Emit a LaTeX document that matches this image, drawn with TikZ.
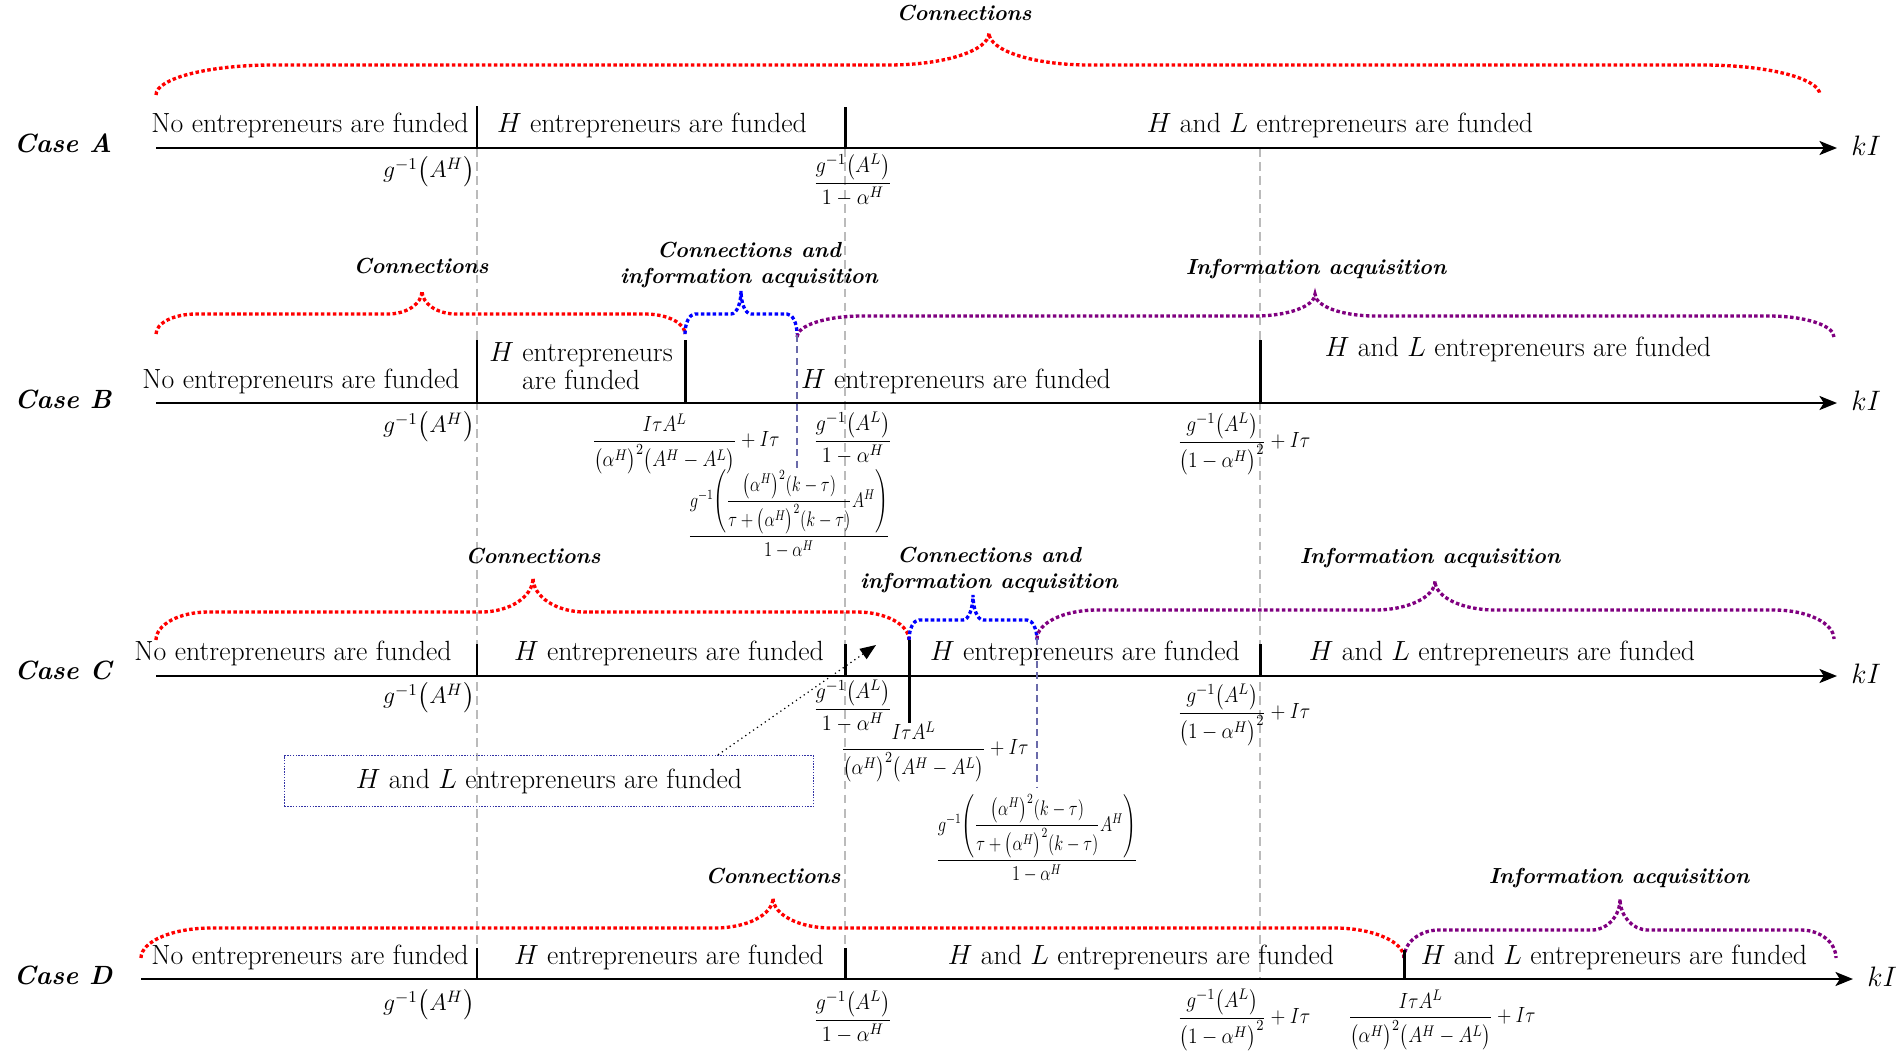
\RequirePackage{fix-cm}
\documentclass[tikz,border=0pt]{standalone}
\usepackage{xcolor}
\usepackage{graphicx}
\usepackage{tikz}
\usetikzlibrary{calc}
\usetikzlibrary{arrows.meta}
\usepackage{amsmath}
\definecolor{BraceRed}{HTML}{FF0000}
\definecolor{BraceBlue}{HTML}{0000FF}
\definecolor{BracePurple}{HTML}{800080}
\definecolor{GuideGray}{HTML}{BBBBBB}
\definecolor{GuideBlue}{HTML}{6A6AAA}
\definecolor{BoxBlue}{HTML}{3333A6}

% #1 colour, #2 #3 left/right x, #4 end y, #5 flat y, #6 #7 tip, #8 end bend, #9 tip bend
\newcommand{\dotbrace}[9]{%
  \draw[brace line, draw=#1] (#2,#4)
    .. controls (#2,{#4-0.552*(#4-#5)}) and ({#2+0.448*#8},#5) .. ({#2+#8},#5)
    -- ({#6-#9},#5)
    .. controls ({#6-0.448*#9},#5) and (#6,{#7+0.552*(#5-#7)}) .. (#6,#7)
    .. controls (#6,{#7+0.552*(#5-#7)}) and ({#6+0.448*#9},#5) .. ({#6+#9},#5)
    -- ({#3-#8},#5)
    .. controls ({#3-0.448*#8},#5) and (#3,{#4-0.552*(#4-#5)}) .. (#3,#4);}

\newcommand{\gAH}{$g^{-1}\bigl(A^{H}\bigr)$}
\newcommand{\fracGL}{\scalebox{0.93}[1]{$\dfrac{g^{-1}\bigl(A^{L}\bigr)}{1-\alpha^{H}}$}}
\newcommand{\fracGLsq}{\scalebox{0.89}[1]{$\dfrac{g^{-1}\bigl(A^{L}\bigr)}{\bigl(1-\alpha^{H}\bigr)^{2}}+I\tau$}}
\newcommand{\fracItau}{\scalebox{0.86}[1]{$\dfrac{I\tau A^{L}}{\bigl(\alpha^{H}\bigr)^{2}\bigl(A^{H}-A^{L}\bigr)}+I\tau$}}
\newcommand{\fracBig}{\fontsize{12}{14}\selectfont\scalebox{0.78}[1]{$\dfrac{g^{-1}\!\left(\dfrac{\bigl(\alpha^{H}\bigr)^{2}(k-\tau)}{\tau+\bigl(\alpha^{H}\bigr)^{2}(k-\tau)}A^{H}\right)}{1-\alpha^{H}}$}}

\begin{document}
\begin{tikzpicture}[x=0.2mm, y=-0.2mm,
  brace line/.style={line width=1.9pt, dash pattern=on 2pt off 1.4pt},
  axis/.style={line width=1.2pt, -{Stealth[length=10pt, width=8pt, inset=2.5pt]}},
  tick/.style={line width=1.7pt},
  guide/.style={draw=GuideGray, line width=.6pt, dash pattern=on 5pt off 3pt},
  guideblue/.style={draw=GuideBlue, line width=.6pt, dash pattern=on 4pt off 2.5pt},
  lbl/.style={font=\fontsize{15.8}{18}\selectfont, inner sep=0pt, anchor=base},
  mth/.style={font=\fontsize{12.5}{15}\selectfont, inner sep=0pt},
  gh/.style={font=\fontsize{13.5}{16}\selectfont, inner sep=0pt, anchor=east},
  kilbl/.style={font=\fontsize{16}{19}\selectfont, inner sep=0pt, anchor=west},
  case/.style={font=\fontsize{15}{18}\selectfont\bfseries\itshape, inner sep=0pt, anchor=base},
  brlbl/.style={font=\fontsize{12.4}{14.8}\selectfont\bfseries\itshape, inner sep=0pt, align=center}]

  \useasboundingbox (0,0) rectangle (1903,1056);

  \draw[guide] (477,148) -- (477,948);
  \draw[guide] (845,148) -- (845,948);
  \draw[guide] (1260,148) -- (1260,979);

  % Case A
  \dotbrace{BraceRed}{156}{1820}{95}{65}{989}{33}{117}{100}
  \node[brlbl, anchor=base] (conA) at (964,20) {Connections};
  \coordinate (A0) at (156,148);
  \coordinate (A1) at (1837,148);
  \draw[axis] (A0) -- (A1);
  \node[kilbl] (kIA) at (1851,146) {$kI$};
  \draw[tick] (477,106) -- (477,148);
  \draw[tick] (845,107) -- (845,148);
  \node[case] (caseA) at (63,152) {Case A};
  \node[lbl] (noA) at (310,132) {No entrepreneurs are funded};
  \node[lbl] (hA) at (652,132) {$H$ entrepreneurs are funded};
  \node[lbl] (hlA) at (1340,132) {$H$ and $L$ entrepreneurs are funded};
  \node[gh] (ghA) at (475,172) {\gAH};
  \node[mth] (glA) at (853,180) {\fracGL};

  % Case B
  \dotbrace{BraceRed}{156}{685}{334}{314}{422}{291}{40}{34}
  \dotbrace{BraceBlue}{685}{797}{334}{314}{741}{291}{10}{10}
  \dotbrace{BracePurple}{797}{1834}{337}{316}{1315}{294}{65}{60}
  \node[brlbl, anchor=base] (conB) at (421,273) {Connections};
  \node[brlbl] (bothB) at (749,265) {Connections and\\information acquisition};
  \node[brlbl, anchor=base] (infB) at (1316,274) {Information acquisition};
  \coordinate (B0) at (156,403);
  \coordinate (B1) at (1837,403);
  \draw[axis] (B0) -- (B1);
  \node[kilbl] (kIB) at (1851,401) {$kI$};
  \draw[tick] (477,340) -- (477,403);
  \draw[tick] (685,340) -- (685,403);
  \draw[tick] (1260,340) -- (1260,403);
  \draw[guideblue] (797,335) -- (797,470);
  \node[case] (caseB) at (63,408) {Case B};
  \node[lbl] (noB) at (301,388) {No entrepreneurs are funded};
  \node[lbl, anchor=center, align=center, font=\fontsize{15.8}{16}\selectfont] (hB) at (581,366) {$H$ entrepreneurs\\are funded};
  \node[lbl] (hB2) at (956,388) {$H$ entrepreneurs are funded};
  \node[lbl] (hlB) at (1518,356) {$H$ and $L$ entrepreneurs are funded};
  \node[gh] (ghB) at (475,427) {\gAH};
  \node[mth] (itB) at (686,444) {\fracItau};
  \node[mth] (glB) at (853,438) {\fracGL};
  \node[mth] (bigB) at (789,514) {\fracBig};
  \node[mth] (glsqB) at (1244,444) {\fracGLsq};

  % Case C
  \dotbrace{BraceRed}{156}{909}{640}{612}{533}{578}{52}{52}
  \dotbrace{BraceBlue}{909}{1037}{640}{620}{973}{595}{10}{10}
  \dotbrace{BracePurple}{1037}{1834}{639}{610}{1435}{581}{60}{60}
  \node[brlbl, anchor=base] (conC) at (533,563) {Connections};
  \node[brlbl] (bothC) at (989,570) {Connections and\\information acquisition};
  \node[brlbl, anchor=base] (infC) at (1430,563) {Information acquisition};
  \coordinate (C0) at (156,676);
  \coordinate (C1) at (1837,676);
  \draw[axis] (C0) -- (C1);
  \node[kilbl] (kIC) at (1851,674) {$kI$};
  \draw[tick] (477,644) -- (477,676);
  \draw[tick] (845,644) -- (845,676);
  \draw[tick] (909,640) -- (909,723);
  \draw[tick] (1260,644) -- (1260,676);
  \draw[guideblue] (1037,638) -- (1037,788);
  \node[case] (caseC) at (63,679) {Case C};
  \node[lbl] (noC) at (293,660) {No entrepreneurs are funded};
  \node[lbl] (hC) at (669,660) {$H$ entrepreneurs are funded};
  \node[lbl] (hC2) at (1085,660) {$H$ entrepreneurs are funded};
  \node[lbl] (hlC) at (1502,660) {$H$ and $L$ entrepreneurs are funded};
  \node[gh] (ghC) at (475,698) {\gAH};
  \node[mth] (glC) at (853,706) {\fracGL};
  \node[mth] (itC) at (935,752) {\fracItau};
  \node[mth] (bigC) at (1037,838) {\fracBig};
  \node[mth] (glsqC) at (1244,715) {\fracGLsq};
  \node[lbl, anchor=center, draw=BoxBlue, line width=.8pt, dash pattern=on .8pt off .8pt,
    minimum width=10.58cm, minimum height=1.02cm] (hlbox) at (549,781) {$H$ and $L$ entrepreneurs are funded};
  \coordinate (hltip) at (876,645);
  \draw[line width=.7pt, dotted, -{Triangle[length=9pt, width=7pt]}] ($(hlbox.north)+(169,0)$) -- (hltip);

  % Case D
  \dotbrace{BraceRed}{141}{1404}{958}{928}{773}{898}{70}{58}
  \dotbrace{BracePurple}{1404}{1836}{958}{930}{1620}{899}{35}{28}
  \node[brlbl, anchor=base] (conD) at (773,883) {Connections};
  \node[brlbl, anchor=base] (infD) at (1619,883) {Information acquisition};
  \coordinate (D0) at (141,979);
  \coordinate (D1) at (1853,979);
  \draw[axis] (D0) -- (D1);
  \node[kilbl] (kID) at (1867,977) {$kI$};
  \draw[tick] (477,948) -- (477,979);
  \draw[tick] (845,948) -- (845,979);
  \draw[tick] (1404,950) -- (1404,979);
  \node[case] (caseD) at (63,984) {Case D};
  \node[lbl] (noD) at (310,964) {No entrepreneurs are funded};
  \node[lbl] (hD) at (669,964) {$H$ entrepreneurs are funded};
  \node[lbl] (hlD) at (1141,964) {$H$ and $L$ entrepreneurs are funded};
  \node[lbl] (hlD2) at (1614,964) {$H$ and $L$ entrepreneurs are funded};
  \node[gh] (ghD) at (475,1005) {\gAH};
  \node[mth] (glD) at (853,1017) {\fracGL};
  \node[mth] (glsqD) at (1244,1020) {\fracGLsq};
  \node[mth] (itD) at (1442,1020) {\fracItau};

\end{tikzpicture}
\end{document}
